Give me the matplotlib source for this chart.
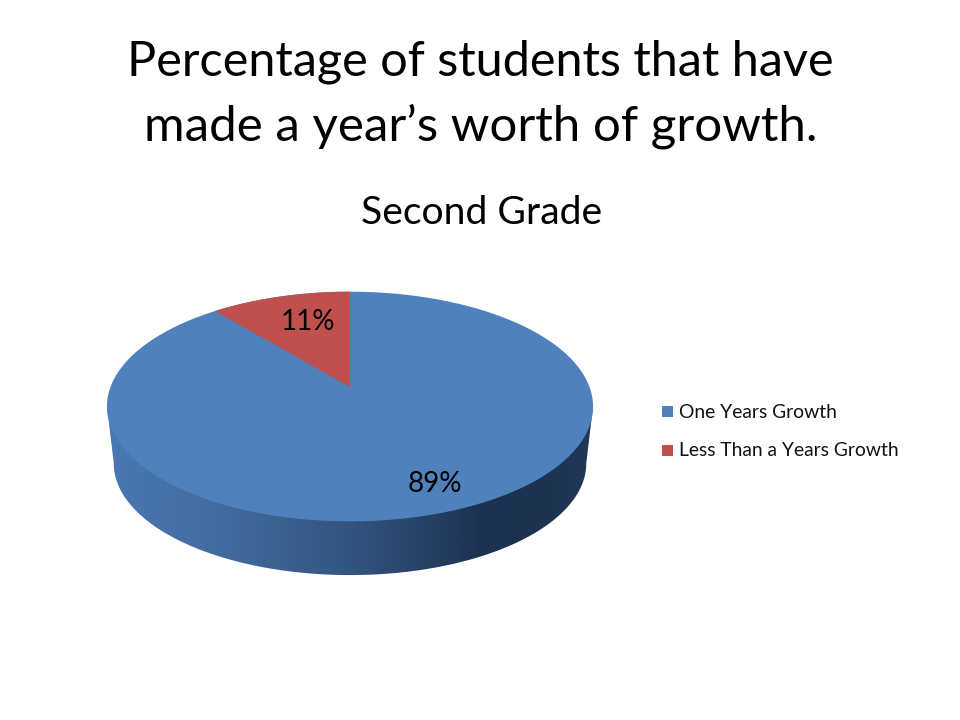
import numpy as np
import matplotlib
matplotlib.use("Agg")
import matplotlib.pyplot as plt
from matplotlib.colors import LinearSegmentedColormap
from matplotlib.patches import Polygon, Rectangle

title_lines = ["Percentage of students that have", "made a year\u2019s worth of growth."]
chart_title = "Second Grade"
categories = ["One Years Growth", "Less Than a Years Growth"]
values = [89, 11]
labels = ["89%", "11%"]
colors = ["#4F81BD", "#C0504D"]

plt.rcParams["font.family"] = ["Lato", "DejaVu Sans"]
fig = plt.figure(figsize=(9.6, 7.2), dpi=100, facecolor="white")
ax = fig.add_axes([0, 0, 1, 1])
ax.set_xlim(0, 960)
ax.set_ylim(720, 0)
ax.axis("off")

CX, CY, A, B, K = 350.0, 387.0, 239.5, 111.5, 0.17


def project(theta, r=1.0, scale=1.0, dy=0.0):
    """theta in degrees, clockwise from 12 o'clock, on the tilted disc."""
    t = np.radians(theta)
    X, Y = r * np.sin(t), r * np.cos(t)
    w = 1 + K * Y
    return CX + scale * A * X / w, CY - B * Y / w * scale + dy


total = sum(values)
red_start = 360 * (1 - values[1] / total)
th_red = np.linspace(red_start, 360, 100)
th_all = np.linspace(0, 360, 1441)

# side wall: outer contour of the top rim's widest points and the lower rim
xt, yt = project(th_all)
xb, yb = project(th_all, scale=0.972, dy=57.5)
il, ir = np.argmin(xt), np.argmax(xt)
jl, jr = np.argmin(xb), np.argmax(xb)
arc = np.arange(jr, jl + 1)  # clockwise from right extreme through the bottom to left extreme
side = np.vstack([
    [xt[ir], yt[ir]],
    np.column_stack([xb[arc], yb[arc]]),
    [xt[il], yt[il]],
])
cmap = LinearSegmentedColormap.from_list(
    "side",
    [(0, "#4A78B2"), (0.25, "#416A9E"), (0.5, "#335580"),
     (0.78, "#1C3150"), (0.9, "#1E3350"), (1, "#213858")],
)
grad = np.linspace(0, 1, 512).reshape(1, -1)
im = ax.imshow(grad, cmap=cmap, extent=(xt.min(), xt.max(), 600, 380),
               aspect="auto", zorder=1)
clip = Polygon(side, closed=True, transform=ax.transData, fc="none", ec="none")
ax.add_patch(clip)
im.set_clip_path(clip)
ax.set_xlim(0, 960)
ax.set_ylim(720, 0)

# top face
ax.fill(xt, yt, color=colors[0], lw=0, zorder=2)
rx, ry = project(th_red)
ax.fill(np.r_[CX, rx], np.r_[CY, ry], color=colors[1], lw=0, zorder=3)

# data labels
ax.text(434.5, 484.5, labels[0], fontsize=20, color="black", ha="center", va="center", zorder=4)
ax.text(308, 322.5, labels[1], fontsize=20, color="black", ha="center", va="center", zorder=4)

# titles
ax.text(480, 62, title_lines[0], fontsize=35, color="black", ha="center", va="center")
ax.text(481, 126, title_lines[1], fontsize=35.5, color="black", ha="center", va="center")
ax.text(481.5, 213, chart_title, fontsize=28.2, color="black", ha="center", va="center")

# legend
for cat, col, y in zip(categories, colors, [411.5, 450.5]):
    ax.add_patch(Rectangle((662, y - 5.5), 11, 11, fc=col, ec="none"))
    ax.text(679, y + 0.5, cat, fontsize=13.9, color="#111111", ha="left", va="center")

fig.savefig("out.png", dpi=100, facecolor="white")
